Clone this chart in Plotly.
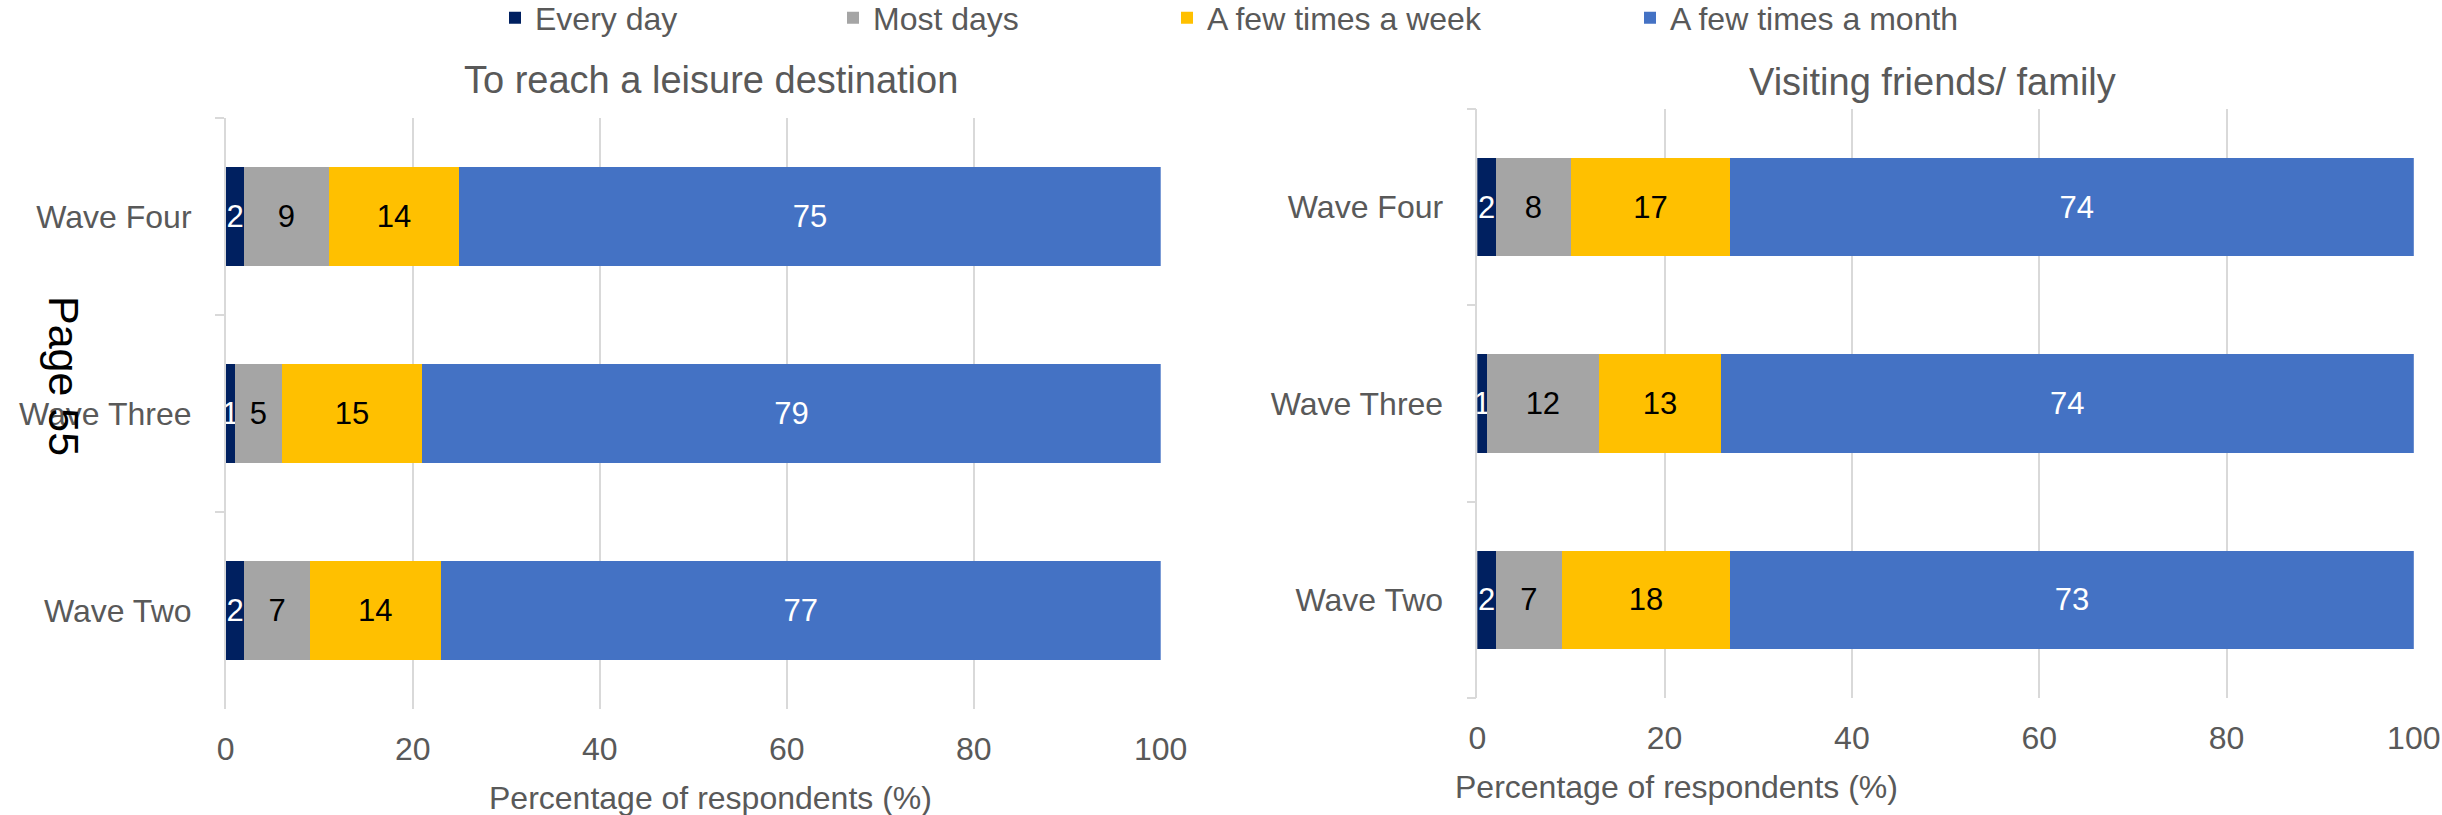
import plotly.graph_objects as go

# Survey waves (bottom to top) and frequency bands
waves = ["Wave Two", "Wave Three", "Wave Four"]
frequencies = ["Every day", "Most days", "A few times a week", "A few times a month"]
band_colors = ["#002060", "#A5A5A5", "#FFC000", "#4472C4"]
label_colors = ["white", "black", "black", "white"]

# To reach a leisure destination (% of respondents), order: Wave Two, Three, Four
leisure_every_day = [2, 1, 2]
leisure_most_days = [7, 5, 9]
leisure_few_week = [14, 15, 14]
leisure_few_month = [77, 79, 75]

# Visiting friends/ family (% of respondents), order: Wave Two, Three, Four
visit_every_day = [2, 1, 2]
visit_most_days = [7, 12, 8]
visit_few_week = [18, 13, 17]
visit_few_month = [73, 74, 74]

x_ticks = [0, 20, 40, 60, 80, 100]

W, H = 2442, 815
FONT = "Liberation Sans, Arial, sans-serif"
GREY_TEXT = "#595959"
GRID = "#D9D9D9"


def fx(px):
    return px / W


def fy(py):
    return 1 - py / H


leisure = [leisure_every_day, leisure_most_days, leisure_few_week, leisure_few_month]
visit = [visit_every_day, visit_most_days, visit_few_week, visit_few_month]

fig = go.Figure()

legend_names = ["legend", "legend2", "legend3", "legend4"]
for i, name in enumerate(frequencies):
    for vals, xa, ya, show in ((leisure[i], "x", "y", True), (visit[i], "x2", "y2", False)):
        fig.add_trace(go.Bar(
            name=name,
            y=waves,
            x=vals,
            orientation="h",
            xaxis=xa,
            yaxis=ya,
            marker=dict(color=band_colors[i], line=dict(width=0)),
            text=[str(v) for v in vals],
            textposition="inside",
            insidetextanchor="middle",
            constraintext="none",
            textfont=dict(family=FONT, size=31, color=label_colors[i]),
            showlegend=show,
            legend=legend_names[i],
            hoverinfo="x+y+name",
        ))

axis_x_common = dict(
    range=[0, 100],
    tickvals=x_ticks,
    showgrid=True,
    gridcolor=GRID,
    gridwidth=1.5,
    zeroline=False,
    showline=False,
    ticks="",
    tickfont=dict(family=FONT, size=32, color=GREY_TEXT),
    ticklabelstandoff=18,
    automargin=False,
    fixedrange=True,
)
axis_y_common = dict(
    categoryorder="array",
    categoryarray=waves,
    showgrid=False,
    zeroline=False,
    showline=True,
    linecolor=GRID,
    linewidth=1.5,
    ticks="outside",
    tickson="boundaries",
    ticklen=9,
    tickcolor=GRID,
    tickwidth=1.5,
    tickfont=dict(family=FONT, size=32, color=GREY_TEXT),
    ticklabelstandoff=26,
    automargin=False,
    fixedrange=True,
)

legend_text_x = [535, 873, 1207, 1670]
legends = {}
for i, key in enumerate(legend_names):
    legends[key] = dict(
        x=fx(legend_text_x[i] - 40),
        xref="container",
        y=fy(18),
        yref="container",
        xanchor="left",
        yanchor="middle",
        orientation="h",
        bgcolor="rgba(0,0,0,0)",
        font=dict(family=FONT, size=32, color=GREY_TEXT),
        itemwidth=30,
    )

fig.update_layout(
    width=W,
    height=H,
    margin=dict(l=0, r=0, t=0, b=0, autoexpand=False),
    paper_bgcolor="white",
    plot_bgcolor="white",
    barmode="stack",
    bargap=0.5,
    font=dict(family=FONT, color=GREY_TEXT),
    xaxis=dict(domain=[fx(225.7), fx(1160.7)], anchor="y", **axis_x_common),
    yaxis=dict(domain=[fy(709), fy(118)], anchor="x", **axis_y_common),
    xaxis2=dict(domain=[fx(1477.3), fx(2413.8)], anchor="y2", **axis_x_common),
    yaxis2=dict(domain=[fy(698), fy(109)], anchor="x2", **axis_y_common),
    **legends,
)

annotations = [
    dict(text="To reach a leisure destination", x=fx(711), y=fy(80), size=38),
    dict(text="Visiting friends/ family", x=fx(1932), y=fy(82), size=38),
    dict(text="Percentage of respondents (%)", x=fx(710), y=fy(798), size=32),
    dict(text="Percentage of respondents (%)", x=fx(1676), y=fy(787), size=32),
]
for a in annotations:
    fig.add_annotation(
        text=a["text"], x=a["x"], y=a["y"], xref="paper", yref="paper",
        xanchor="center", yanchor="middle", showarrow=False,
        font=dict(family=FONT, size=a["size"], color=GREY_TEXT),
    )

fig.add_annotation(
    text="Page 55", x=fx(64), y=fy(376), xref="paper", yref="paper",
    xanchor="center", yanchor="middle", showarrow=False, textangle=90,
    font=dict(family=FONT, size=43, color="black"),
)

fig.write_html("out.html")
